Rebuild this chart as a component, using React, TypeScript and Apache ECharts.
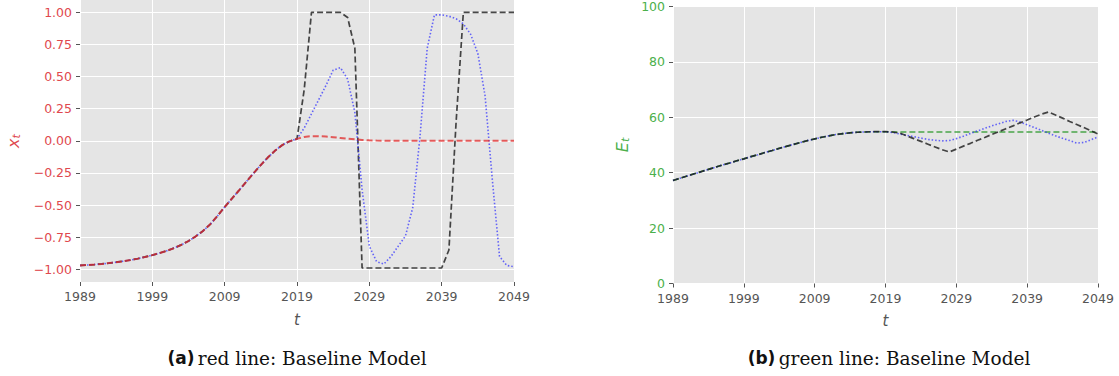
import React, { useEffect, useRef } from "react";
import * as echarts from "echarts";

// ---------- data ----------
const years = [
  1989, 1990, 1991, 1992, 1993, 1994, 1995, 1996, 1997, 1998,
  1999, 2000, 2001, 2002, 2003, 2004, 2005, 2006, 2007, 2008,
  2009, 2010, 2011, 2012, 2013, 2014, 2015, 2016, 2017, 2018,
  2019, 2020, 2021, 2022, 2023, 2024, 2025, 2026, 2027, 2028,
  2029, 2030, 2031, 2032, 2033, 2034, 2035, 2036, 2037, 2038,
  2039, 2040, 2041, 2042, 2043, 2044, 2045, 2046, 2047, 2048,
  2049,
];

// x_t, common history 1989..2019
const xHistory = [
  -0.970, -0.967, -0.963, -0.958, -0.952, -0.945, -0.937, -0.928, -0.917, -0.904,
  -0.890, -0.874, -0.856, -0.835, -0.810, -0.780, -0.744, -0.702, -0.650, -0.585,
  -0.515, -0.450, -0.385, -0.318, -0.252, -0.188, -0.128, -0.075, -0.032, -0.003,
  0.015,
];
// x_t, 2020..2049
const xRedFuture = [
  0.030, 0.036, 0.036, 0.033, 0.028, 0.022, 0.016, 0.011, 0.007, 0.004,
  0.002, 0.001, 0, 0, 0, 0, 0, 0, 0, 0,
  0, 0, 0, 0, 0, 0, 0, 0, 0, 0,
];
const xBlueFuture = [
  0.10, 0.21, 0.32, 0.43, 0.55, 0.57, 0.48, 0.22, -0.38, -0.82,
  -0.94, -0.96, -0.90, -0.82, -0.74, -0.52, 0.03, 0.72, 0.98, 0.98,
  0.97, 0.95, 0.91, 0.83, 0.68, 0.35, -0.30, -0.90, -0.97, -0.98,
];
const xBlackFuture = [
  0.40, 1.0, 1.0, 1.0, 1.0, 1.0, 0.96, 0.72, -0.99, -0.99,
  -0.99, -0.99, -0.99, -0.99, -0.99, -0.99, -0.99, -0.99, -0.99, -0.99,
  -0.85, 0.15, 1.0, 1.0, 1.0, 1.0, 1.0, 1.0, 1.0, 1.0,
];

// E_t, common history 1989..2019
const eHistory = [
  37.2, 38.0, 38.8, 39.6, 40.4, 41.2, 42.0, 42.8, 43.5, 44.3,
  45.0, 45.8, 46.5, 47.3, 48.0, 48.8, 49.5, 50.2, 50.9, 51.6,
  52.2, 52.8, 53.3, 53.8, 54.1, 54.4, 54.6, 54.7, 54.8, 54.8,
  54.8,
];
// E_t, 2020..2049
const eGreenFuture = [
  54.7, 54.7, 54.7, 54.7, 54.7, 54.7, 54.7, 54.7, 54.7, 54.7,
  54.7, 54.7, 54.7, 54.7, 54.7, 54.7, 54.7, 54.7, 54.7, 54.7,
  54.7, 54.7, 54.7, 54.7, 54.7, 54.7, 54.7, 54.7, 54.7, 54.7,
];
const eBlueFuture = [
  54.5, 54.0, 53.5, 53.0, 52.5, 52.0, 51.7, 51.5, 51.6, 52.3,
  53.2, 54.2, 55.1, 56.0, 56.9, 57.7, 58.5, 58.9, 58.3, 57.3,
  56.3, 55.3, 54.3, 53.3, 52.4, 51.6, 50.7, 50.9, 51.9, 52.9,
];
const eBlackFuture = [
  54.7, 54.3, 53.3, 52.3, 51.3, 50.3, 49.3, 48.3, 47.5, 48.5,
  49.6, 50.6, 51.7, 52.7, 53.8, 54.8, 55.9, 56.9, 58.0, 59.0,
  60.1, 61.1, 61.9, 60.8, 59.7, 58.5, 57.4, 56.3, 55.1, 54.0,
];

const xTicks = [1989, 1999, 2009, 2019, 2029, 2039, 2049];
const xtTicks = [-1, -0.75, -0.5, -0.25, 0, 0.25, 0.5, 0.75, 1];
const etTicks = [0, 20, 40, 60, 80, 100];

const captionA = "red line: Baseline Model";
const captionB = "green line: Baseline Model";

// ---------- helpers ----------
const pairs = (hist: number[], fut: number[]) =>
  hist.concat(fut).map((v, i) => [years[i], v]);

const fmtX = (v: number) => {
  const a = Math.abs(v).toFixed(2);
  return v < -1e-9 ? "\u2212" + a : a;
};

const SANS = "DejaVu Sans";
const GRAY = "#555555";
const RED_TXT = "#e0484e";
const GREEN_TXT = "#4bb04b";
const LABEL_SIZE = 12.5;

export default function App() {
  const ref = useRef<HTMLDivElement>(null);

  useEffect(() => {
    if (!ref.current) return;
    const chart = echarts.init(ref.current, undefined, { renderer: "svg" });

    const xAxisBase = (gridIndex: number) => ({
      type: "value",
      gridIndex,
      min: 1989,
      max: 2049,
      interval: 10,
      axisLine: { show: false, onZero: false },
      axisTick: { show: true, length: 4, lineStyle: { color: GRAY, width: 1 }, customValues: xTicks },
      axisLabel: {
        color: GRAY,
        fontSize: LABEL_SIZE,
        fontFamily: SANS,
        margin: 8,
        customValues: xTicks,
        showMinLabel: true,
        showMaxLabel: true,
        formatter: (v: number) => String(Math.round(v)),
      },
      splitLine: { show: true, lineStyle: { color: "#ffffff", width: 1 } },
      name: "t",
      nameLocation: "middle",
      nameGap: 30,
      nameTextStyle: { fontStyle: "italic", fontSize: 15, color: GRAY, fontFamily: SANS },
    });

    const option: any = {
      animation: false,
      grid: [
        {
          left: 80,
          top: 0,
          width: 434,
          height: 282,
          show: true,
          backgroundColor: "#e5e5e5",
          borderWidth: 0,
          outerBoundsMode: "none",
        },
        {
          left: 673,
          top: 6.5,
          width: 425,
          height: 277,
          show: true,
          backgroundColor: "#e5e5e5",
          borderWidth: 0,
          outerBoundsMode: "none",
        },
      ],
      xAxis: [xAxisBase(0), xAxisBase(1)],
      yAxis: [
        {
          type: "value",
          gridIndex: 0,
          min: -1.099,
          max: 1.096,
          axisLine: { show: false, onZero: false },
          axisTick: { show: true, length: 4, lineStyle: { color: GRAY }, customValues: xtTicks },
          axisLabel: {
            color: RED_TXT,
            fontSize: LABEL_SIZE,
            fontFamily: SANS,
            margin: 8,
            customValues: xtTicks,
            formatter: fmtX,
          },
          splitLine: { show: true, lineStyle: { color: "#ffffff", width: 1 } },
          name: "{v|x}{s|t}",
          nameLocation: "middle",
          nameGap: 58,
          nameTextStyle: {
            rich: {
              v: { fontSize: 16, color: RED_TXT, fontFamily: SANS, fontStyle: "italic" },
              s: { fontSize: 11, color: RED_TXT, fontFamily: SANS, fontStyle: "italic", padding: [6, 0, 0, 0] },
            },
          },
        },
        {
          type: "value",
          gridIndex: 1,
          min: 0,
          max: 100,
          interval: 20,
          axisLine: { show: false, onZero: false },
          axisTick: { show: true, length: 4, lineStyle: { color: GRAY }, customValues: etTicks },
          axisLabel: {
            color: GREEN_TXT,
            fontSize: LABEL_SIZE,
            fontFamily: SANS,
            margin: 8,
            customValues: etTicks,
          },
          splitLine: { show: true, lineStyle: { color: "#ffffff", width: 1 } },
          name: "{v|E}{s|t}",
          nameLocation: "middle",
          nameGap: 42,
          nameTextStyle: {
            rich: {
              v: { fontSize: 16, color: GREEN_TXT, fontFamily: SANS, fontStyle: "italic" },
              s: { fontSize: 11, color: GREEN_TXT, fontFamily: SANS, fontStyle: "italic", padding: [6, 0, 0, 0] },
            },
          },
        },
      ],
      series: [
        {
          type: "line",
          xAxisIndex: 0,
          yAxisIndex: 0,
          data: pairs(xHistory, xBlackFuture),
          showSymbol: false,
          symbol: "none",
          lineStyle: { color: "#1a1a1a", width: 1.7, type: [6, 3], opacity: 0.8 },
        },
        {
          type: "line",
          xAxisIndex: 0,
          yAxisIndex: 0,
          data: pairs(xHistory, xBlueFuture),
          showSymbol: false,
          symbol: "none",
          lineStyle: { color: "#2b2bff", width: 1.6, type: [1.5, 2], opacity: 0.7 },
        },
        {
          type: "line",
          xAxisIndex: 0,
          yAxisIndex: 0,
          data: pairs(xHistory, xRedFuture),
          showSymbol: false,
          symbol: "none",
          lineStyle: { color: "#e02a2a", width: 2, type: [6, 3], opacity: 0.75 },
        },
        {
          type: "line",
          xAxisIndex: 1,
          yAxisIndex: 1,
          data: pairs(eHistory, eGreenFuture),
          showSymbol: false,
          symbol: "none",
          lineStyle: { color: "#2e9a2e", width: 1.6, type: [6, 3], opacity: 0.85 },
        },
        {
          type: "line",
          xAxisIndex: 1,
          yAxisIndex: 1,
          data: pairs(eHistory, eBlueFuture),
          showSymbol: false,
          symbol: "none",
          lineStyle: { color: "#2b2bff", width: 1.6, type: [1.5, 2], opacity: 0.7 },
        },
        {
          type: "line",
          xAxisIndex: 1,
          yAxisIndex: 1,
          data: pairs(eHistory, eBlackFuture),
          showSymbol: false,
          symbol: "none",
          lineStyle: { color: "#1a1a1a", width: 1.7, type: [6, 3], opacity: 0.8 },
        },
      ],
      graphic: [
        {
          type: "text",
          x: 297,
          y: 358,
          style: {
            text: "{b|(a)} {r|" + captionA + "}",
            align: "center",
            verticalAlign: "middle",
            rich: {
              b: { fontFamily: SANS, fontWeight: "bold", fontSize: 17, fill: "#111" },
              r: { fontFamily: "DejaVu Serif", fontSize: 18.5, fill: "#111" },
            },
          },
        },
        {
          type: "text",
          x: 889,
          y: 358,
          style: {
            text: "{b|(b)} {r|" + captionB + "}",
            align: "center",
            verticalAlign: "middle",
            rich: {
              b: { fontFamily: SANS, fontWeight: "bold", fontSize: 17, fill: "#111" },
              r: { fontFamily: "DejaVu Serif", fontSize: 18.5, fill: "#111" },
            },
          },
        },
      ],
    };

    chart.setOption(option);
    return () => chart.dispose();
  }, []);

  return (
    <div
      ref={ref}
      style={{ position: "fixed", left: 0, top: 0, width: 1119, height: 376, background: "#ffffff" }}
    />
  );
}
